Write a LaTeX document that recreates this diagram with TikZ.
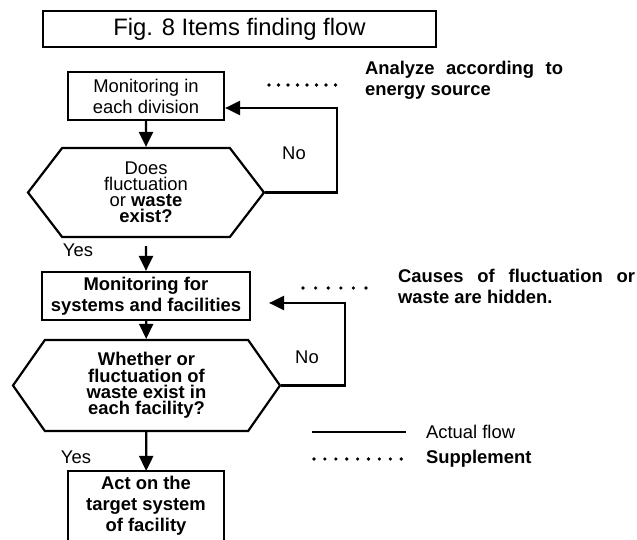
\documentclass[tikz,border=0pt]{standalone}
\usepackage{fontspec}
\setmainfont{Liberation Sans}
\usetikzlibrary{arrows.meta,shapes.symbols}
\begin{document}
\begin{tikzpicture}[x=0.5pt, y=-0.5pt, line width=1.1pt, >={Triangle[length=7.5pt,width=7pt]},
    main/.style = {draw, align=center, inner sep=0pt, font=\fontsize{9.2}{10.5}\selectfont},
    mainb/.style = {main, font=\bfseries\fontsize{9.2}{10.5}\selectfont},
    hex/.style = {draw, signal, signal to=west and east, align=center, inner sep=0pt},
    lbl/.style = {font=\fontsize{9.2}{10.5}\selectfont},
    note/.style = {anchor=west, align=justify, inner sep=0pt, font=\bfseries\fontsize{9.2}{10.5}\selectfont},
    supp/.style = {line width=1.8pt, line cap=round, dash pattern=on 0pt off #1}]
    \useasboundingbox (0,0) rectangle (637,540);
    % nodi del diagramma
    \node[draw, minimum width=196.5pt, minimum height=17pt, font=\fontsize{11.9}{14}\selectfont] (t) at (239.5,29) {Fig. 8 Items finding flow};
    \node[main, minimum width=78pt, minimum height=24pt] (1) at (146,96) {Monitoring in\\each division};
    \node[hex, minimum width=118pt, minimum height=44.5pt, signal pointer angle=105, font=\fontsize{9.2}{8}\selectfont] (2) at (146,192.5) {Does\\fluctuation\\or \textbf{waste}\\\textbf{exist?}};
    \node[mainb, minimum width=104pt, minimum height=24pt] (3) at (146,296) {Monitoring for\\systems and facilities};
    \node[hex, minimum width=133.5pt, minimum height=45.5pt, signal pointer angle=110, font=\bfseries\fontsize{9.2}{8.2}\selectfont] (4) at (146.5,385.5) {Whether or\\fluctuation of\\waste exist in\\each facility?};
    \node[mainb, draw=none, minimum width=77pt, minimum height=34pt] (5) at (146,506) {Act on the\\target system\\of facility};
    \draw (5.south west) -- (5.north west) -- (5.north east) -- (5.south east);

    \draw[->] (1) -- (2);
    \draw[->, shorten <=4pt] (2) -- (3);
    \draw[->] (3) -- (4);
    \draw[->] (4) -- (5);
    \draw[->] (2.east) -| (337,108) -- (1.east |- 0,108);
    \draw[->, shorten >=9pt] (4.east) -| (345,303) -- (3.east |- 0,303);

    \node[lbl] (no1) at (294,153) {No};
    \node[lbl] (no2) at (307,357) {No};
    \node[lbl] (yes1) at (78,250) {Yes};
    \node[lbl] (yes2) at (76,457) {Yes};

    \node[note, text width=99pt] (n1) at (364,80) {Analyze according to\linebreak energy source};
    \node[note, text width=118.5pt] (n2) at (397,286) {Causes of fluctuation or\linebreak waste are hidden.};
    \draw[supp=4.75pt] (269,85) -- (345,85);
    \draw[supp=6.3pt] (303,288) -- (378,288);

    \draw[line width=0.9pt] (312,432) -- (406,432);
    \node[lbl, anchor=west, inner sep=0pt] (l1) at (425,432) {Actual flow};
    \draw[supp=5.45pt] (314,459) -- (412,459);
    \node[lbl, anchor=west, inner sep=0pt, font=\bfseries\fontsize{9.2}{10.5}\selectfont] (l2) at (425,459) {Supplement};
\end{tikzpicture}
\end{document}
